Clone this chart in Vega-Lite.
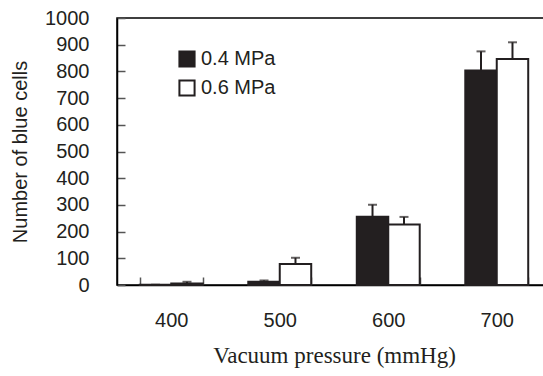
{
  "$schema": "https://vega.github.io/schema/vega-lite/v6.json",
  "autosize": "none",
  "width": 434,
  "height": 267,
  "padding": {"left": 117, "top": 18, "right": 0, "bottom": 91},
  "background": "white",
  "config": {
    "view": {"stroke": "black", "strokeWidth": 1.5},
    "font": "Liberation Sans"
  },
  "data": {
    "values": [
      {"pressure": "400", "group": "0.4 MPa", "value": 1, "upper": 1},
      {"pressure": "400", "group": "0.6 MPa", "value": 6, "upper": 12},
      {"pressure": "500", "group": "0.4 MPa", "value": 12, "upper": 17},
      {"pressure": "500", "group": "0.6 MPa", "value": 79, "upper": 102},
      {"pressure": "600", "group": "0.4 MPa", "value": 256, "upper": 301},
      {"pressure": "600", "group": "0.6 MPa", "value": 227, "upper": 255},
      {"pressure": "700", "group": "0.4 MPa", "value": 803, "upper": 875},
      {"pressure": "700", "group": "0.6 MPa", "value": 846, "upper": 909}
    ]
  },
  "encoding": {
    "x": {
      "field": "pressure", "type": "nominal",
      "scale": {"paddingInner": 0.42, "paddingOuter": 0.21},
      "axis": {
        "title": "Vacuum pressure (mmHg)",
        "titleFont": "Liberation Serif", "titleFontSize": 23, "titleFontWeight": "normal",
        "titleColor": "#231f20", "titlePadding": 14,
        "labelAngle": 0, "labelFontSize": 20, "labelColor": "#231f20", "labelPadding": 33,
        "tickBand": "extent", "tickSize": -8, "tickColor": "#555", "tickWidth": 1.5,
        "domainColor": "black", "domainWidth": 1.5
      }
    },
    "xOffset": {"field": "group", "type": "nominal", "scale": {"paddingInner": 0, "paddingOuter": 0}},
    "y": {
      "field": "value", "type": "quantitative",
      "scale": {"domain": [0, 1000], "nice": false},
      "axis": {
        "title": "Number of blue cells",
        "titleFontSize": 20, "titleFontWeight": "normal", "titleColor": "#231f20", "titlePadding": 14,
        "values": [0, 100, 200, 300, 400, 500, 600, 700, 800, 900, 1000],
        "format": "d", "labelOverlap": false,
        "labelFontSize": 20, "labelColor": "#231f20", "labelPadding": 36,
        "tickSize": -8, "tickColor": "#555", "tickWidth": 1.5,
        "grid": false, "domainColor": "black", "domainWidth": 1.5
      }
    }
  },
  "layer": [
    {
      "mark": {"type": "bar", "stroke": "#231f20", "strokeWidth": 2},
      "encoding": {
        "fill": {
          "field": "group", "type": "nominal",
          "scale": {"domain": ["0.4 MPa", "0.6 MPa"], "range": ["#231f20", "white"]},
          "legend": {
            "title": null, "orient": "none", "legendX": 60, "legendY": 31,
            "symbolType": "square", "symbolSize": 230, "symbolStrokeColor": "#231f20",
            "symbolStrokeWidth": 2, "labelFontSize": 20, "labelColor": "#231f20",
            "rowPadding": 5, "labelOffset": 4
          }
        }
      }
    },
    {
      "mark": {"type": "rule", "stroke": "#231f20", "strokeWidth": 2},
      "encoding": {
        "y2": {"field": "upper"}
      }
    },
    {
      "mark": {"type": "tick", "color": "#231f20", "size": 9, "thickness": 2},
      "encoding": {
        "y": {"field": "upper", "type": "quantitative"}
      }
    }
  ]
}
